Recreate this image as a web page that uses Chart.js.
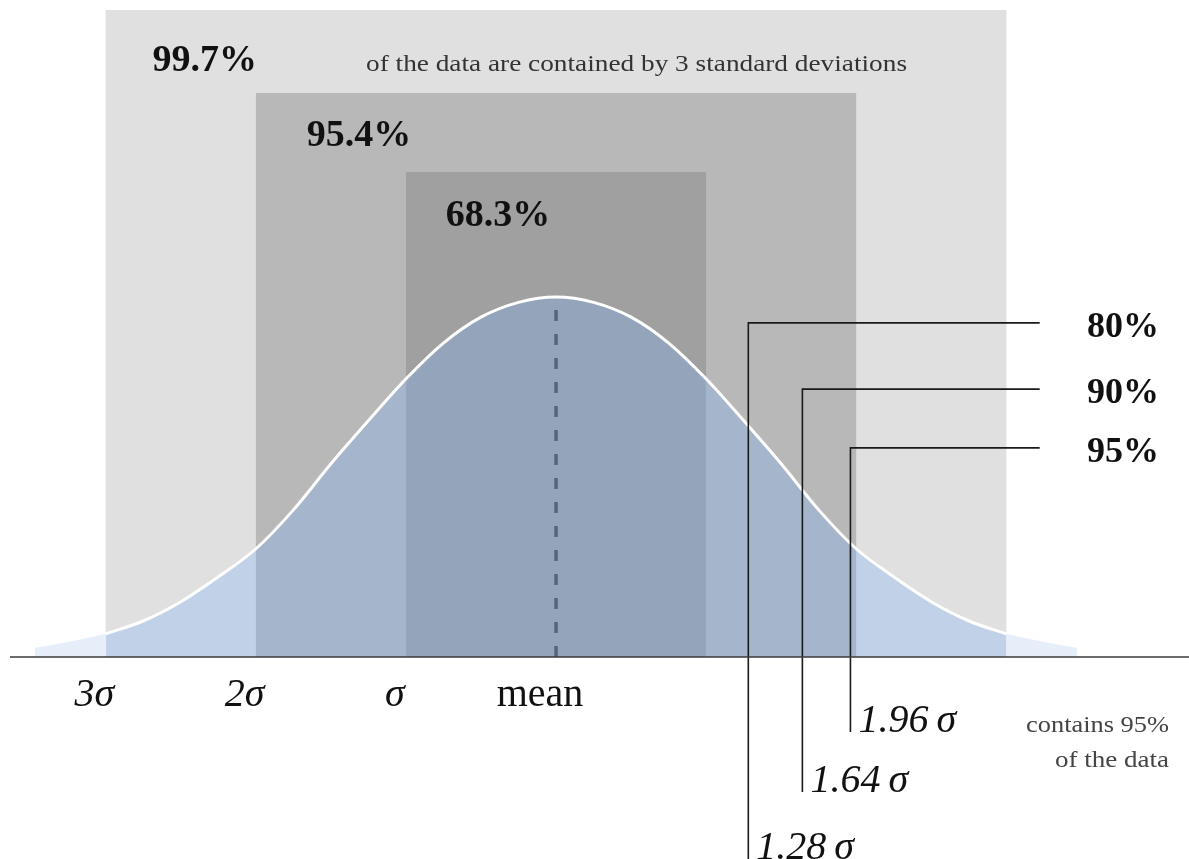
<!DOCTYPE html>
<html>
<head>
<meta charset="utf-8">
<title>Normal distribution</title>
<script src="https://cdn.jsdelivr.net/npm/chart.js@4.4.1/dist/chart.umd.min.js"></script>
<style>
  html, body { margin: 0; padding: 0; background: #fff; }
  #wrap { width: 1189px; height: 859px; position: relative; }
</style>
</head>
<body>
<div id="wrap"><canvas id="normalChart"></canvas></div>
<script>
// x values are in standard deviations, y values relative to the peak of the curve

// 68-95-99.7 bands
const bandSigma = [3, 2, 1];
const bandTop = [1.797, 1.567, 1.347];
const bandLabels = ['99.7%', '95.4%', '68.3%'];
const bandColors = ['#e0e0e0', '#b8b8b8', '#a0a0a0'];

// bell curve
const curveSigma = [-3, -2.75, -2.5, -2.25, -2, -1.75, -1.5, -1.25, -1, -0.75, -0.5, -0.25, 0,
                    0.25, 0.5, 0.75, 1, 1.25, 1.5, 1.75, 2, 2.25, 2.5, 2.75, 3];
const curveHeight = [0.064, 0.10, 0.153, 0.222, 0.30, 0.408, 0.536, 0.656, 0.772, 0.872, 0.944, 0.985, 1.0,
                     0.985, 0.944, 0.872, 0.772, 0.656, 0.536, 0.408, 0.30, 0.222, 0.153, 0.10, 0.064];

// faint tails beyond 3 sigma
const leftTailSigma = [-3.47, -3.25, -3];
const rightTailSigma = [3, 3.25, 3.47];
const leftTailHeight = [0.025, 0.042, 0.064];
const rightTailHeight = [0.064, 0.042, 0.025];

// one-sided markers
const markerSigma = [1.28, 1.64, 1.96];
const markerLevel = [0.928, 0.744, 0.581];
const markerBottom = [-0.561, -0.375, -0.208];
const markerLabels = ['80%', '90%', '95%'];
const markerTexts = ['1.28\u2009σ', '1.64\u2009σ', '1.96\u2009σ'];
const markerEnd = 3.22;

// axis labels
const axisSigma = [-3, -2, -1, 0];
const axisLabels = ['3σ', '2σ', 'σ', 'mean'];
const meanTop = 0.964;

const serif = "'Liberation Serif', 'DejaVu Serif', serif";

function pts(xs, ys) {
    return xs.map((v, i) => ({ x: v, y: ys[i] }));
}

const datasets = [];

// grey bands, widest at the back
bandSigma.forEach((s, i) => {
    datasets.push({
        data: [{ x: -s, y: 0 }, { x: -s, y: bandTop[i] }, { x: s, y: bandTop[i] }, { x: s, y: 0 }],
        borderWidth: 0,
        backgroundColor: bandColors[i],
        fill: 'origin',
        tension: 0,
        order: 20 - i
    });
});

// tails
[pts(leftTailSigma, leftTailHeight), pts(rightTailSigma, rightTailHeight)].forEach(d => {
    datasets.push({
        data: d,
        borderWidth: 0,
        backgroundColor: '#e6eef9',
        fill: 'origin',
        cubicInterpolationMode: 'monotone',
        order: 12
    });
});

// the curve
datasets.push({
    data: pts(curveSigma, curveHeight),
    borderColor: '#ffffff',
    borderWidth: 3,
    backgroundColor: 'rgba(121, 174, 250, 0.3)',
    fill: 'origin',
    cubicInterpolationMode: 'monotone',
    order: 10
});

// dashed mean line
datasets.push({
    data: [{ x: 0, y: 0 }, { x: 0, y: meanTop }],
    borderColor: '#55657b',
    borderWidth: 3.5,
    borderDash: [11, 13],
    fill: false,
    order: 5
});

// marker lines
markerSigma.forEach((s, i) => {
    datasets.push({
        data: [{ x: s, y: markerBottom[i] }, { x: s, y: markerLevel[i] }, { x: markerEnd, y: markerLevel[i] }],
        borderColor: '#1a1a1a',
        borderWidth: 1.6,
        fill: false,
        tension: 0,
        order: 2
    });
});

// baseline
datasets.push({
    data: [{ x: -3.636, y: 0 }, { x: 4.3, y: 0 }],
    borderColor: '#3a3a3a',
    borderWidth: 1.5,
    fill: false,
    order: 1
});

// write text stretched horizontally to a given width
function fitText(ctx, text, xPos, yPos, width) {
    const w = ctx.measureText(text).width;
    const sx = width / w;
    ctx.save();
    ctx.translate(xPos, yPos);
    ctx.scale(sx, 1);
    ctx.fillText(text, 0, 0);
    ctx.restore();
}

// text drawn on top of everything
const annotations = {
    id: 'annotations',
    afterDatasetsDraw(chart) {
        const { ctx, scales: { x, y } } = chart;
        const px = v => x.getPixelForValue(v);
        const py = v => y.getPixelForValue(v);
        ctx.save();
        ctx.textBaseline = 'alphabetic';

        // band percentages
        const bandDx = [47, 51, 40];
        const bandDy = [61, 53, 54];
        ctx.fillStyle = '#111';
        ctx.font = 'bold 38px ' + serif;
        ctx.textAlign = 'left';
        bandLabels.forEach((t, i) => {
            ctx.fillText(t, px(-bandSigma[i]) + bandDx[i], py(bandTop[i]) + bandDy[i]);
        });

        ctx.fillStyle = '#333';
        ctx.font = '23px ' + serif;
        fitText(ctx, 'of the data are contained by 3 standard deviations', 366, 71, 541);

        // marker percentages
        ctx.fillStyle = '#111';
        ctx.font = 'bold 36px ' + serif;
        markerLabels.forEach((t, i) => {
            ctx.fillText(t, 1087, py(markerLevel[i]) + 14);
        });

        // marker sigma values
        ctx.font = 'italic 40px ' + serif;
        markerTexts.forEach((t, i) => {
            ctx.fillText(t, px(markerSigma[i]) + 8, py(markerBottom[i]));
        });

        // axis labels
        ctx.textAlign = 'center';
        axisLabels.forEach((t, i) => {
            ctx.font = (t === 'mean' ? '' : 'italic ') + '40px ' + serif;
            const dx = t === 'mean' ? -16 : -11;
            ctx.fillText(t, px(axisSigma[i]) + dx, py(0) + 49);
        });

        // side note
        ctx.fillStyle = '#444';
        ctx.font = '24px ' + serif;
        ctx.textAlign = 'right';
        fitText(ctx, 'contains 95%', 1169, 732, 143);
        fitText(ctx, 'of the data', 1169, 767, 114);

        ctx.restore();
    }
};

const ctx = document.getElementById('normalChart').getContext('2d');
const normalChart = new Chart(ctx, {
    type: 'scatter',
    data: { datasets: datasets },
    options: {
        responsive: true,
        maintainAspectRatio: false,
        animation: false,
        showLine: true,
        elements: {
            point: { radius: 0, hoverRadius: 0 }
        },
        layout: { padding: 0 },
        scales: {
            x: { type: 'linear', display: false, min: -3.702, max: 4.214 },
            y: { type: 'linear', display: false, min: -0.5611, max: 1.825 }
        },
        plugins: {
            legend: { display: false },
            tooltip: { enabled: false }
        }
    },
    plugins: [annotations]
});
</script>
</body>
</html>
